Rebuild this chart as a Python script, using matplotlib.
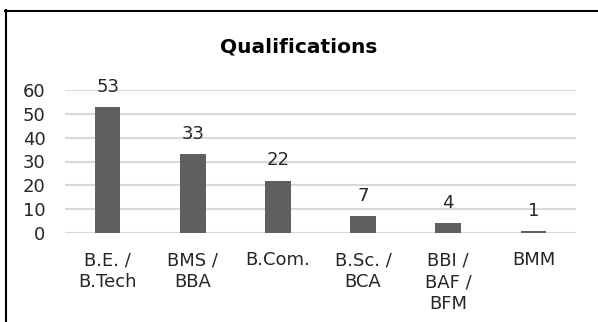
import matplotlib.pyplot as plt

# DATA ----------
categories = ["B.E. /\nB.Tech", "BMS /\nBBA", "B.Com.", "B.Sc. /\nBCA", "BBI /\nBAF /\nBFM", "BMM"]
counts = [53, 33, 22, 7, 4, 1]
y_ticks = [0, 10, 20, 30, 40, 50, 60]

# PLOT ----------
plt.rcParams['font.family'] = ['DejaVu Sans']

fig = plt.figure(figsize=(5.98, 3.22), dpi=100)
ax = fig.add_axes([65 / 598, 1 - 233 / 322, 511 / 598, 143 / 322])

x = range(len(categories))
ax.bar(x, counts, width=0.3, color="#5f5f5f", zorder=3)

for xi, c in zip(x, counts):
    ax.annotate(str(c), (xi, c), xytext=(0, 8), textcoords="offset points",
                ha="center", va="bottom", fontsize=13, color="#262626")

ax.set_xlim(-0.5, len(categories) - 0.5)
ax.set_ylim(0, 60)
ax.set_yticks(y_ticks)
ax.set_xticks(list(x))
ax.set_xticklabels(categories, fontsize=13, color="#262626", linespacing=1.3, va="top")
ax.tick_params(axis="y", labelsize=13, colors="#262626", length=0, pad=14)
ax.tick_params(axis="x", length=0, pad=13)
ax.grid(axis="y", color="#d9d9d9", linewidth=1.5, zorder=0)
for s in ax.spines.values():
    s.set_visible(False)

fig.text(0.5, 1 - 47 / 322, "Qualifications", ha="center", va="center",
         fontsize=14.5, fontweight="bold", color="black")

# outer border (top and left only visible)
fig.add_artist(plt.Line2D([5 / 598, 1], [1 - 10.5 / 322, 1 - 10.5 / 322], color="black", linewidth=1.5))
fig.add_artist(plt.Line2D([5.5 / 598, 5.5 / 598], [0, 1 - 10 / 322], color="black", linewidth=1.5))

fig.savefig("out.png", dpi=100)
